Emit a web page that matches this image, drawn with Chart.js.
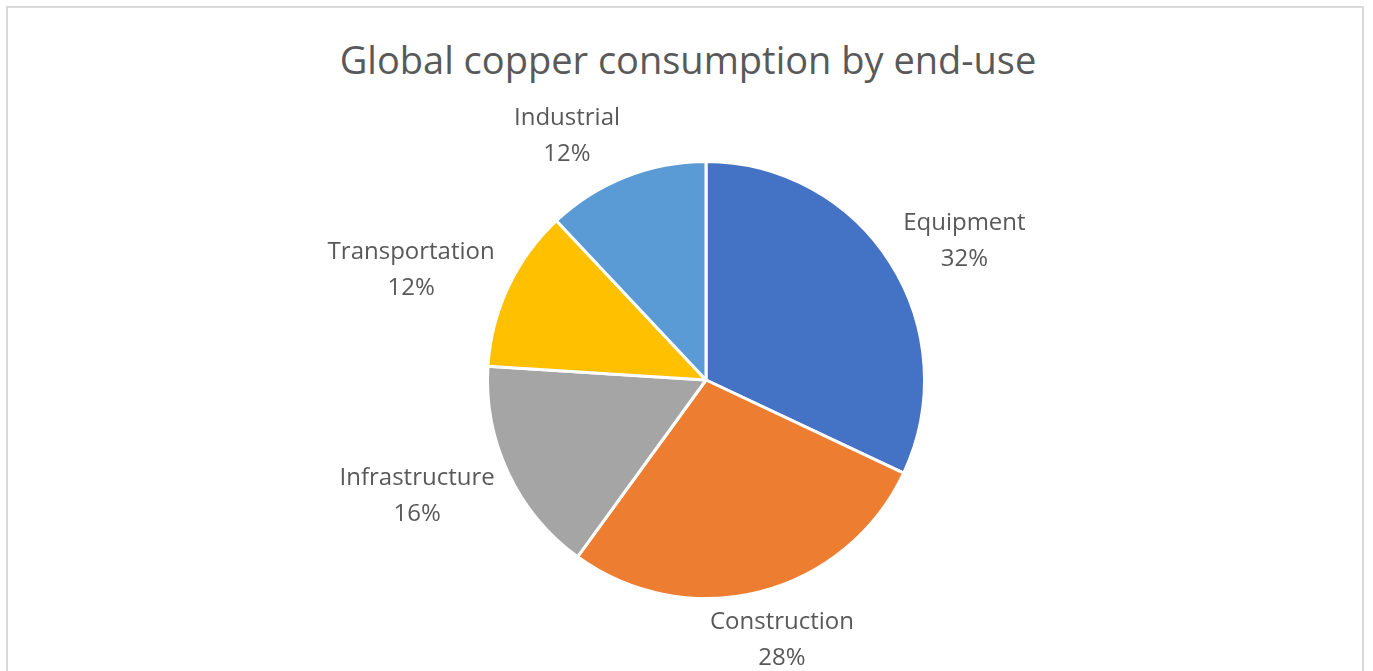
<!DOCTYPE html>
<html>
<head>
<meta charset="utf-8">
<script src="https://cdn.jsdelivr.net/npm/chart.js@4"></script>
<style>
  html, body { margin: 0; padding: 0; background: #fff; overflow: hidden; }
  #frame {
    position: absolute; left: 6px; top: 6px; width: 1358px; height: 720px;
    border: 2px solid #d9d9d9; box-sizing: border-box;
  }
  #title {
    position: absolute; left: 0; top: 33px; width: 1376px; text-align: center;
    font-family: "Open Sans", sans-serif; font-size: 38px; color: #595959;
  }
  #wrap { position: absolute; left: 0; top: 0; width: 1373px; height: 671px; }
</style>
</head>
<body>
<div id="frame"></div>
<div id="title">Global copper consumption by end-use</div>
<div id="wrap"><canvas id="pie"></canvas></div>
<script>
// 구리 소비 용도별 비중 (%)
const categories = ["Equipment", "Construction", "Infrastructure", "Transportation", "Industrial"];
const shares = [32, 28, 16, 12, 12];
const colors = ["#4472c4", "#ed7d31", "#a5a5a5", "#ffc000", "#5b9bd5"];

// 조각 바깥에 이름 + 퍼센트 두 줄로 붙이기
const outsideLabels = {
  id: "outsideLabels",
  afterDraw(chart) {
    const ctx = chart.ctx;
    const meta = chart.getDatasetMeta(0);
    const total = shares.reduce((a, b) => a + b, 0);
    ctx.save();
    ctx.font = "24px 'Open Sans', sans-serif";
    ctx.fillStyle = "#595959";
    ctx.textAlign = "center";
    ctx.textBaseline = "middle";
    const lineH = 36;
    meta.data.forEach((arc, i) => {
      const p = arc.getProps(["x", "y", "startAngle", "endAngle", "outerRadius"], true);
      const mid = (p.startAngle + p.endAngle) / 2;
      const c = Math.cos(mid), s = Math.sin(mid);
      const r = p.outerRadius + 15;
      const px = p.x + r * c;
      const py = p.y + r * s;
      const pct = Math.round(shares[i] / total * 100) + "%";
      const hw = Math.max(ctx.measureText(categories[i]).width, ctx.measureText(pct).width) / 2;
      // 옆쪽 라벨은 글자 상자 끝이 닿게, 위아래 라벨은 비례해서
      const fx = Math.abs(c) < 0.3 ? c : Math.sign(c);
      const cx = px + hw * fx;
      const cy = py + 32 * s + 3;
      ctx.fillText(categories[i], cx, cy - lineH / 2);
      ctx.fillText(pct, cx, cy + lineH / 2);
    });
    ctx.restore();
  }
};

new Chart(document.querySelector("#pie"), {
  type: "pie",
  data: {
    labels: categories,
    datasets: [{
      data: shares,
      backgroundColor: colors,
      borderColor: "#ffffff",
      borderWidth: 3
    }]
  },
  options: {
    responsive: true,
    maintainAspectRatio: false,
    animation: false,
    layout: {
      padding: { top: 160, bottom: 71, left: 39, right: 0 }
    },
    plugins: {
      legend: { display: false },
      tooltip: { enabled: false }
    }
  },
  plugins: [outsideLabels]
});
</script>
</body>
</html>
